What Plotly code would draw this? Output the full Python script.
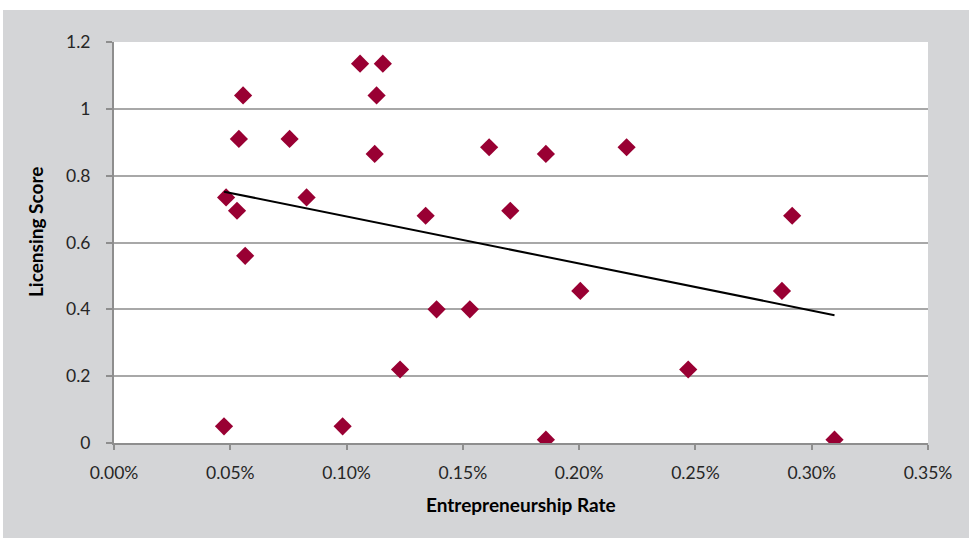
import numpy as np
import plotly.graph_objects as go

# Entrepreneurship rate (fraction; shown as %) and licensing score
entrepreneurship_rate = [
    0.000473, 0.000983, 0.000555, 0.000537, 0.000755, 0.000482, 0.000529,
    0.000564, 0.000828, 0.001058, 0.001156, 0.001129, 0.001121, 0.001230,
    0.001340, 0.001387, 0.001530, 0.001613, 0.001704, 0.001857, 0.001857,
    0.002005, 0.002204, 0.002469, 0.002872, 0.002916, 0.003098,
]
licensing_score = [
    0.05, 0.05, 1.04, 0.91, 0.91, 0.735, 0.695,
    0.56, 0.735, 1.135, 1.135, 1.04, 0.865, 0.22,
    0.68, 0.40, 0.40, 0.885, 0.695, 0.865, 0.01,
    0.455, 0.885, 0.22, 0.455, 0.68, 0.01,
]
x_tick_values = [0, 0.0005, 0.001, 0.0015, 0.002, 0.0025, 0.003, 0.0035]
y_tick_values = [0, 0.2, 0.4, 0.6, 0.8, 1.0, 1.2]
y_tick_labels = ["0", "0.2", "0.4", "0.6", "0.8", "1", "1.2"]

x_arr = np.array(entrepreneurship_rate)
y_arr = np.array(licensing_score)
slope, intercept = np.polyfit(x_arr, y_arr, 1)
trend_x = [x_arr.min(), x_arr.max()]
trend_y = [slope * v + intercept for v in trend_x]

FONT = "Lato, 'Open Sans', sans-serif"
MARKER = "#990033"
PANEL = "#d4d5d7"
TICK_SIZE = 17.5
TITLE_SIZE = 19

fig = go.Figure()
fig.add_trace(go.Scatter(
    x=entrepreneurship_rate, y=licensing_score, mode="markers",
    marker=dict(symbol="diamond", size=14, color=MARKER, line=dict(width=0)),
    showlegend=False, hoverinfo="x+y",
))
fig.add_trace(go.Scatter(
    x=trend_x, y=trend_y, mode="lines",
    line=dict(color="#000000", width=2), showlegend=False, hoverinfo="skip",
))

W, H = 969, 538
L, R, T, B = 114, 41, 42, 95
pw, ph = W - L - R, H - T - B

def px_to_paper_x(px):
    return (px - L) / pw

def px_to_paper_y(py):
    return (H - B - py) / ph

fig.update_layout(
    width=W, height=H,
    margin=dict(l=L, r=R, t=T, b=B, pad=0),
    paper_bgcolor="white",
    plot_bgcolor="rgba(0,0,0,0)",
    font=dict(family=FONT, size=TICK_SIZE, color="#262626"),
    shapes=[
        dict(type="rect", xref="paper", yref="paper", layer="below",
             x0=px_to_paper_x(3), x1=px_to_paper_x(W + 5),
             y0=px_to_paper_y(H + 5), y1=px_to_paper_y(10),
             fillcolor=PANEL, line=dict(width=0)),
        dict(type="rect", xref="paper", yref="paper", layer="below",
             x0=0, x1=1, y0=0, y1=1,
             fillcolor="white", line=dict(width=0)),
    ],
    xaxis=dict(
        range=[0, 0.0035], tickvals=x_tick_values, tickformat=".2%",
        showgrid=False, zeroline=False,
        showline=True, linecolor="#8e8e8e", linewidth=2,
        ticks="outside", ticklen=5, tickwidth=1.5, tickcolor="#8e8e8e",
        ticklabelstandoff=8,
        tickfont=dict(family=FONT, size=TICK_SIZE, color="#262626"),
    ),
    yaxis=dict(
        range=[0, 1.2], tickvals=y_tick_values, ticktext=y_tick_labels,
        showgrid=True, gridcolor="#a8a8a8", gridwidth=2,
        zeroline=False,
        showline=True, linecolor="#8e8e8e", linewidth=2,
        ticks="outside", ticklen=6, tickwidth=1.5, tickcolor="#8e8e8e",
        ticklabelstandoff=12,
        tickfont=dict(family=FONT, size=TICK_SIZE, color="#262626"),
    ),
    annotations=[
        dict(text="<b>Entrepreneurship Rate</b>", xref="paper", yref="paper",
             x=0.5, y=px_to_paper_y(504), xanchor="center", yanchor="middle",
             showarrow=False, font=dict(family=FONT, size=TITLE_SIZE, color="#000000")),
        dict(text="<b>Licensing Score</b>", xref="paper", yref="paper",
             x=px_to_paper_x(35), y=px_to_paper_y(232), xanchor="center",
             yanchor="middle", textangle=-90, showarrow=False,
             font=dict(family=FONT, size=TITLE_SIZE, color="#000000")),
    ],
)

fig.write_html("out.html")
